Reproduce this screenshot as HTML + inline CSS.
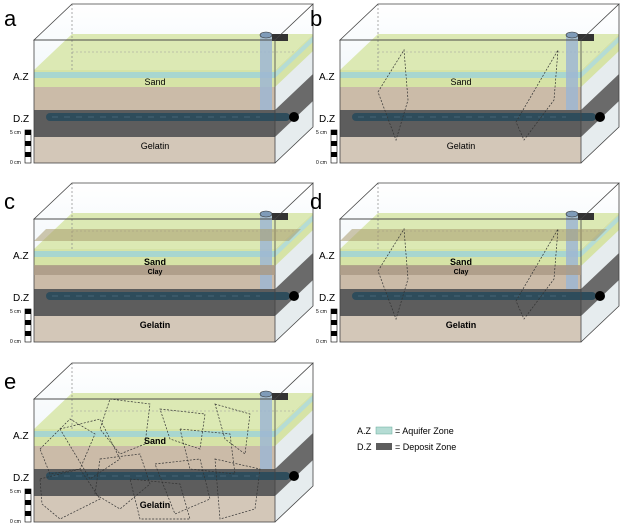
<!DOCTYPE html>
<html><head><meta charset="utf-8"><style>
html,body{margin:0;padding:0;background:#fff;width:624px;height:527px;overflow:hidden}
svg text{font-family:"Liberation Sans",sans-serif}
</style></head><body>
<svg width="624" height="527" viewBox="0 0 624 527" xmlns="http://www.w3.org/2000/svg">
<defs>
<linearGradient id="wat" x1="0" y1="0" x2="0" y2="1"><stop offset="0" stop-color="#ffffff"/><stop offset="1" stop-color="#e3eef5"/></linearGradient>
<g id="box">
  <polygon points="34,40 72,4 313,4 313,127 275,163 34,163" fill="url(#wat)"/>
  <polygon points="34,70 72,34 313,34 275,70" fill="#dce9b4"/>
  <line x1="72" y1="4" x2="72" y2="127" stroke="#888" stroke-width="0.7" stroke-dasharray="2,2"/>
  <line x1="72" y1="127" x2="313" y2="127" stroke="#888" stroke-width="0.7" stroke-dasharray="2,2"/>
  <line x1="34" y1="163" x2="72" y2="127" stroke="#888" stroke-width="0.7" stroke-dasharray="2,2"/>
  <line x1="72" y1="52" x2="313" y2="52" stroke="#999" stroke-width="0.6" stroke-dasharray="2,2"/>
  <rect x="34" y="70" width="241" height="17" fill="#d6e3a6"/>
  <rect x="34" y="72" width="241" height="6" fill="#a8d6cf"/>
  <rect x="34" y="87" width="241" height="23" fill="#cbbba8"/>
  <rect x="34" y="110" width="241" height="27" fill="#5d5d5d"/>
  <rect x="34" y="137" width="241" height="26" fill="#d3c7b8"/>
  <polygon points="275,70 313,34 313,127 275,163" fill="#e6ecee"/>
  <polygon points="275,70 313,34 313,51 275,87" fill="#d6e3a6"/>
  <polygon points="275,72 313,36 313,42 275,78" fill="#b5dcd4"/>
  <polygon points="275,110 313,74 313,101 275,137" fill="#6a6a6a"/>
  <rect x="260" y="36" width="12" height="74" fill="#9db6d2" opacity="0.85"/>
  <rect x="272" y="34" width="16" height="7" fill="#333"/>
  <ellipse cx="266" cy="35" rx="6" ry="3" fill="#7f9bb8" stroke="#333" stroke-width="0.6"/>
  <rect x="46" y="113" width="244" height="8" rx="4" fill="#2e4c5b"/>
  <line x1="52" y1="117" x2="260" y2="117" stroke="#5f7f8f" stroke-width="0.6" stroke-dasharray="6,6"/>
  <circle cx="294" cy="117" r="5" fill="#000"/>
  <polygon points="34,40 72,4 313,4 275,40" fill="none" stroke="#444" stroke-width="0.8"/>
  <rect x="34" y="40" width="241" height="123" fill="none" stroke="#444" stroke-width="0.8"/>
  <polyline points="313,4 313,127 275,163" fill="none" stroke="#444" stroke-width="0.8"/>
  <rect x="25" y="130" width="6" height="33" fill="#fff" stroke="#000" stroke-width="0.6"/>
  <rect x="25" y="130" width="6" height="5" fill="#000"/>
  <rect x="25" y="141" width="6" height="5" fill="#000"/>
  <rect x="25" y="152" width="6" height="5" fill="#000"/>
</g>
<g id="lbl" font-size="5" fill="#000">
  <text x="10" y="134" font-size="5">5 cm</text>
  <text x="10" y="164" font-size="5">0 cm</text>
  <text x="13" y="80" font-size="10">A.Z</text>
  <text x="13" y="122" font-size="10">D.Z</text>
</g>
</defs>

<use href="#box"/><use href="#lbl"/>
<text x="4" y="26" font-size="22">a</text>
<text x="155" y="85" font-size="9" text-anchor="middle">Sand</text>
<text x="155" y="149" font-size="9" text-anchor="middle">Gelatin</text>

<g transform="translate(306,0)">
<use href="#box"/><use href="#lbl"/>
<text x="4" y="26" font-size="22">b</text>
<text x="155" y="85" font-size="9" text-anchor="middle">Sand</text>
<text x="155" y="149" font-size="9" text-anchor="middle">Gelatin</text>
<polygon points="72,92 98,50 102,100 90,140" fill="none" stroke="#333" stroke-width="0.7" stroke-dasharray="2,1.5"/>
<polygon points="210,122 252,50 248,100 218,140" fill="none" stroke="#333" stroke-width="0.7" stroke-dasharray="2,1.5"/>
</g>

<g transform="translate(0,179)">
<use href="#box"/>
<rect x="34" y="86" width="241" height="10" fill="#a99883" opacity="0.8"/>
<polygon points="34,62 46,50 301,50 289,62" fill="#a89b6e" opacity="0.55"/>
<use href="#lbl"/>
<text x="4" y="30" font-size="22">c</text>
<text x="155" y="86" font-size="9" font-weight="bold" text-anchor="middle">Sand</text>
<text x="155" y="95" font-size="7" font-weight="bold" text-anchor="middle">Clay</text>
<text x="155" y="149" font-size="9" font-weight="bold" text-anchor="middle">Gelatin</text>
</g>

<g transform="translate(306,179)">
<use href="#box"/>
<rect x="34" y="86" width="241" height="10" fill="#a99883" opacity="0.8"/>
<polygon points="34,62 46,50 301,50 289,62" fill="#a89b6e" opacity="0.55"/>
<use href="#lbl"/>
<text x="4" y="30" font-size="22">d</text>
<text x="155" y="86" font-size="9" font-weight="bold" text-anchor="middle">Sand</text>
<text x="155" y="95" font-size="7" font-weight="bold" text-anchor="middle">Clay</text>
<text x="155" y="149" font-size="9" font-weight="bold" text-anchor="middle">Gelatin</text>
<polygon points="72,92 98,50 102,100 90,140" fill="none" stroke="#333" stroke-width="0.7" stroke-dasharray="2,1.5"/>
<polygon points="210,122 252,50 248,100 218,140" fill="none" stroke="#333" stroke-width="0.7" stroke-dasharray="2,1.5"/>
</g>

<g transform="translate(0,359)">
<use href="#box"/><use href="#lbl"/>
<text x="4" y="30" font-size="22">e</text>
<text x="155" y="85" font-size="9" font-weight="bold" text-anchor="middle">Sand</text>
<text x="155" y="149" font-size="9" font-weight="bold" text-anchor="middle">Gelatin</text>
<g fill="none" stroke="#333" stroke-width="0.7" stroke-dasharray="2,1.5">
<polygon points="40,90 70,60 95,75 80,110 50,115"/>
<polygon points="110,40 150,45 145,85 120,95 100,70"/>
<polygon points="160,50 205,55 200,90 170,80"/>
<polygon points="215,45 250,55 245,95 225,80"/>
<polygon points="40,120 80,110 100,140 60,160 42,145"/>
<polygon points="100,100 140,95 150,125 120,150 95,135"/>
<polygon points="155,105 200,100 210,140 175,155"/>
<polygon points="215,100 260,110 255,150 220,160"/>
<polygon points="60,70 100,60 120,100 90,120"/>
<polygon points="130,120 180,125 190,160 140,160"/>
<polygon points="180,70 230,75 235,115 190,110"/>
</g>
</g>

<text x="357" y="434" font-size="9">A.Z</text>
<rect x="376" y="427" width="16" height="7" fill="#b5dcd4" stroke="#6a9" stroke-width="0.5"/>
<text x="395" y="434" font-size="9">= Aquifer Zone</text>
<text x="357" y="450" font-size="9">D.Z</text>
<rect x="376" y="443" width="16" height="7" fill="#5d5d5d"/>
<text x="395" y="450" font-size="9">= Deposit Zone</text>
</svg>
</body></html>
